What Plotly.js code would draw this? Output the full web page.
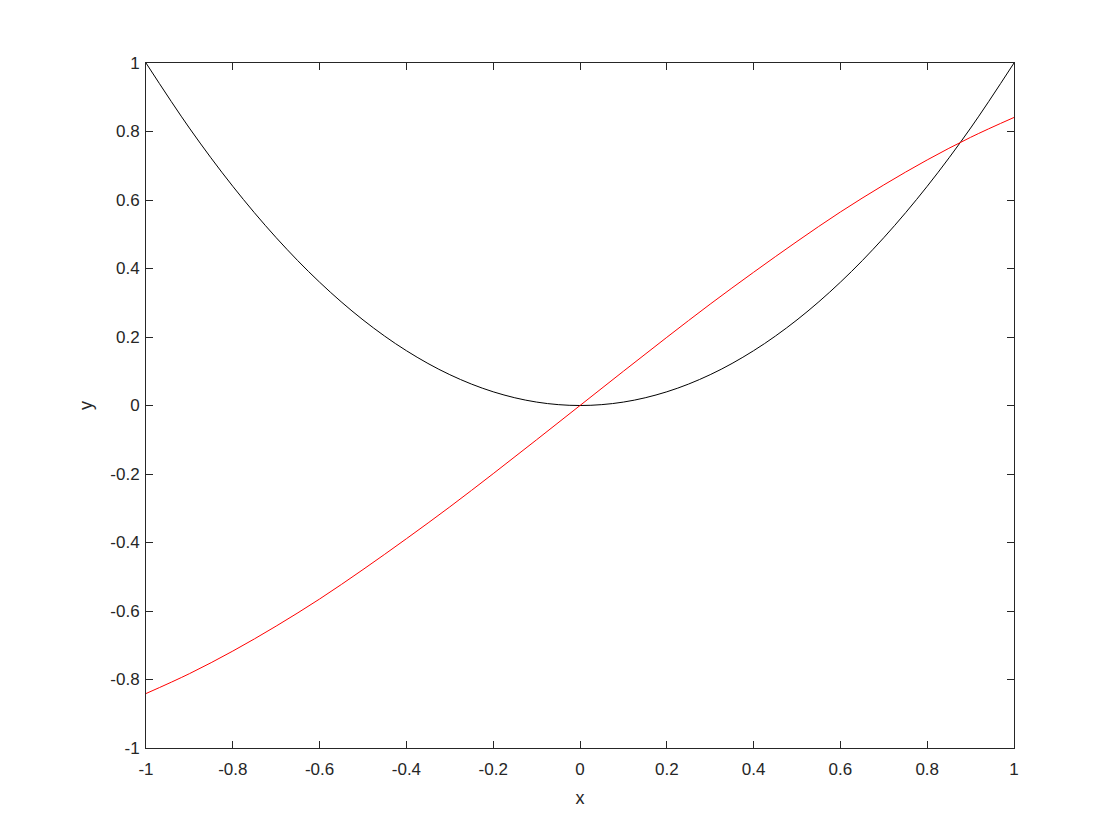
<!DOCTYPE html>
<html>
<head>
<meta charset="utf-8">
<script src="https://cdn.plot.ly/plotly-3.0.1.min.js"></script>
<style>html,body{margin:0;padding:0;background:#fff;}#chart{width:1120px;height:840px;}</style>
</head>
<body>
<div id="chart"></div>
<script>
var xValues = [-1, -0.9, -0.8, -0.7, -0.6, -0.5, -0.4, -0.3, -0.2, -0.1, 0, 0.1, 0.2, 0.3, 0.4, 0.5, 0.6, 0.7, 0.8, 0.9, 1];
var blackSeries = [1, 0.81, 0.64, 0.49, 0.36, 0.25, 0.16, 0.09, 0.04, 0.01, 0, 0.01, 0.04, 0.09, 0.16, 0.25, 0.36, 0.49, 0.64, 0.81, 1];
var redSeries = [-0.841, -0.783, -0.717, -0.644, -0.565, -0.479, -0.389, -0.296, -0.199, -0.100, 0, 0.100, 0.199, 0.296, 0.389, 0.479, 0.565, 0.644, 0.717, 0.783, 0.841];
var tickVals = [-1, -0.8, -0.6, -0.4, -0.2, 0, 0.2, 0.4, 0.6, 0.8, 1];
var tickText = ['-1', '-0.8', '-0.6', '-0.4', '-0.2', '0', '0.2', '0.4', '0.6', '0.8', '1'];

var FONT = 'Liberation Sans, Arial, Helvetica, sans-serif';

var traces = [
  {x: xValues, y: blackSeries, mode: 'lines', line: {color: '#000000', width: 1, shape: 'spline'}, hoverinfo: 'none'},
  {x: xValues, y: redSeries, mode: 'lines', line: {color: '#ff0000', width: 1, shape: 'spline'}, hoverinfo: 'none'}
];

var axisCommon = {
  range: [-1, 1],
  tickmode: 'array',
  tickvals: tickVals,
  ticktext: tickText,
  ticks: 'inside',
  ticklen: 7,
  tickwidth: 1,
  tickcolor: '#262626',
  showline: true,
  linecolor: '#262626',
  linewidth: 1,
  mirror: 'ticks',
  showgrid: false,
  zeroline: false,
  tickfont: {family: FONT, size: 17, color: '#262626'}
};

var layout = {
  width: 1120,
  height: 840,
  margin: {l: 146, r: 106, t: 63, b: 92, pad: 0},
  paper_bgcolor: '#ffffff',
  plot_bgcolor: '#ffffff',
  showlegend: false,
  xaxis: Object.assign({}, axisCommon, {
    ticklabelstandoff: 6,
    title: {text: 'x', font: {family: FONT, size: 18, color: '#262626'}, standoff: 12}
  }),
  yaxis: Object.assign({}, axisCommon, {
    ticklabelstandoff: 2,
    title: {text: 'y', font: {family: FONT, size: 18, color: '#262626'}, standoff: 13}
  })
};

Plotly.newPlot('chart', traces, layout, {staticPlot: true, displayModeBar: false});
</script>
</body>
</html>
